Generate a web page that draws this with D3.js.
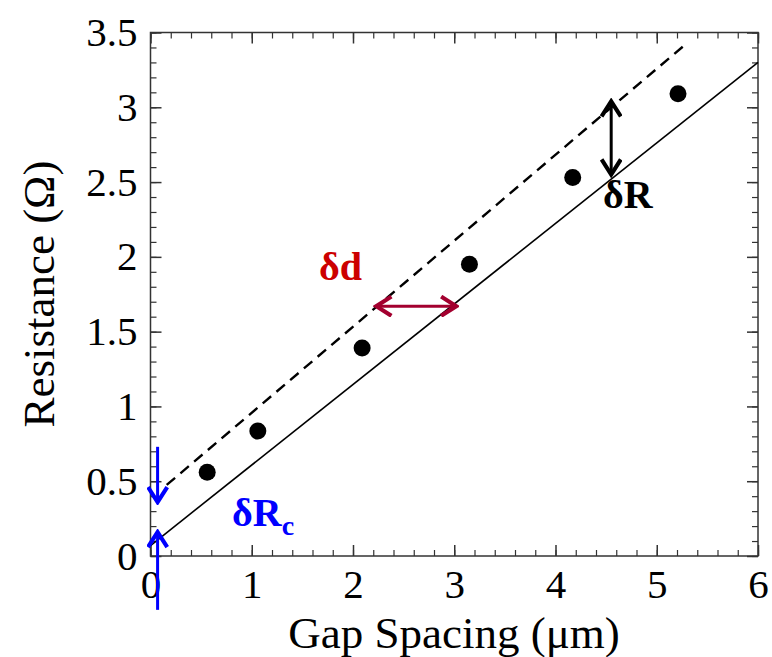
<!DOCTYPE html>
<html>
<head>
<meta charset="utf-8">
<script src="https://cdn.jsdelivr.net/npm/d3@7"></script>
<style>
  html, body { margin: 0; padding: 0; background: #fff; }
</style>
</head>
<body>
<div id="chart"></div>
<script>
"use strict";

// Measured points: gap spacing (um) vs resistance (ohm)
const gapSpacing = [0.56, 1.06, 2.09, 3.15, 4.17, 5.21];
const resistance = [0.56, 0.835, 1.39, 1.95, 2.53, 3.09];

// Fitted line (solid) and shifted line (dashed), as end points
const solidLine  = [[0, 0.07], [6, 3.30]];
const dashedLine = [[0.16, 0.475], [5.30, 3.43]];

// Tick values
const xMajor = [0, 1, 2, 3, 4, 5, 6];
const xMinor = d3.range(0, 6.001, 0.2);
const yMajor = [0, 0.5, 1, 1.5, 2, 2.5, 3, 3.5];
const yMinor = d3.range(0, 3.501, 0.1);

// Annotation arrows (data units)
const dRArrow   = [[4.55, 3.04], [4.55, 2.55]];
const ddArrow   = [[2.23, 1.67], [3.02, 1.67]];
const dRcTop    = [[0.07, 0.73], [0.07, 0.36]];
const dRcBottom = [[0.07, -0.36], [0.07, 0.16]];

const FONT = '"Liberation Serif", "Times New Roman", "DejaVu Serif", serif';

const W = 772, H = 657;
const x = d3.scaleLinear().domain([0, 6]).range([150.5, 758]);
const y = d3.scaleLinear().domain([0, 3.5]).range([556, 32.5]);

const svg = d3.select("#chart").append("svg")
  .attr("width", W).attr("height", H)
  .attr("font-family", FONT)
  .style("display", "block");

const defs = svg.append("defs");
function addHead(id, color) {
  defs.append("marker")
    .attr("id", id)
    .attr("viewBox", "-12 -8 14 16")
    .attr("refX", 0).attr("refY", 0)
    .attr("markerUnits", "userSpaceOnUse")
    .attr("markerWidth", 20).attr("markerHeight", 22)
    .attr("orient", "auto-start-reverse")
    .append("path")
    .attr("d", "M-11,-7 L0,0 L-11,7")
    .attr("fill", "none")
    .attr("stroke", color)
    .attr("stroke-width", 3);
}
addHead("head-black", "#000");
addHead("head-red", "#a3002f");
addHead("head-blue", "#0000ff");

const axisColor = "#333";
const tickFont = 41;

// Ticks on all four sides, pointing inward
function drawAxis(axisFn, scale, transform, major, minor, labels) {
  svg.append("g").attr("transform", transform)
    .call(axisFn(scale).tickValues(minor).tickSize(-6).tickSizeOuter(0).tickFormat(""))
    .call(g => g.select(".domain").remove())
    .call(g => g.selectAll("line").attr("stroke", axisColor).attr("stroke-width", 1.2));
  const g = svg.append("g").attr("transform", transform)
    .call(axisFn(scale).tickValues(major).tickSize(-11).tickSizeOuter(0)
      .tickPadding(labels ? 13 : 0)
      .tickFormat(labels ? d3.format("") : ""))
    .attr("font-family", FONT)
    .call(g => g.select(".domain").remove())
    .call(g => g.selectAll("line").attr("stroke", axisColor).attr("stroke-width", 1.5));
  g.selectAll("text")
    .attr("font-size", tickFont)
    .attr("fill", "#000");
  return g;
}

drawAxis(d3.axisBottom, x, `translate(0,${y(0)})`, xMajor, xMinor, true);
drawAxis(d3.axisTop, x, `translate(0,${y(3.5)})`, xMajor, xMinor, false);
drawAxis(d3.axisLeft, y, `translate(${x(0)},0)`, yMajor, yMinor, true);
drawAxis(d3.axisRight, y, `translate(${x(6)},0)`, yMajor, yMinor, false);

// Frame
svg.append("rect")
  .attr("x", x(0)).attr("y", y(3.5))
  .attr("width", x(6) - x(0)).attr("height", y(0) - y(3.5))
  .attr("fill", "none").attr("stroke", axisColor).attr("stroke-width", 1.5);

// Lines
const line = d3.line().x(d => x(d[0])).y(d => y(d[1]));
svg.append("path").datum(solidLine)
  .attr("d", line).attr("fill", "none")
  .attr("stroke", "#000").attr("stroke-width", 1.6);
svg.append("path").datum(dashedLine)
  .attr("d", line).attr("fill", "none")
  .attr("stroke", "#000").attr("stroke-width", 2.4)
  .attr("stroke-dasharray", "11,7");

// Points
svg.append("g").selectAll("circle")
  .data(gapSpacing.map((g, i) => [g, resistance[i]]))
  .join("circle")
  .attr("cx", d => x(d[0])).attr("cy", d => y(d[1]))
  .attr("r", 8.5).attr("fill", "#000");

// Arrows
function arrow(pts, color, head, both) {
  svg.append("path").datum(pts)
    .attr("d", line).attr("fill", "none")
    .attr("stroke", color).attr("stroke-width", 3)
    .attr("marker-end", `url(#${head})`)
    .attr("marker-start", both ? `url(#${head})` : null);
}
arrow(dRArrow, "#000", "head-black", true);
arrow(ddArrow, "#a3002f", "head-red", true);
arrow(dRcTop, "#0000ff", "head-blue", false);
arrow(dRcBottom, "#0000ff", "head-blue", false);

// Annotation labels
svg.append("text")
  .attr("x", 603).attr("y", 208)
  .attr("font-size", 40).attr("font-weight", "bold").attr("fill", "#000")
  .text("\u03b4R");
svg.append("text")
  .attr("x", 319).attr("y", 280)
  .attr("font-size", 40).attr("font-weight", "bold").attr("fill", "#cc0000")
  .text("\u03b4d");
const rc = svg.append("text")
  .attr("x", 232).attr("y", 526)
  .attr("font-size", 40).attr("font-weight", "bold").attr("fill", "#0000ff");
rc.append("tspan").text("\u03b4R");
rc.append("tspan").attr("font-size", 28).attr("dy", 9).text("c");

// Axis titles
svg.append("text")
  .attr("x", 454).attr("y", 648)
  .attr("text-anchor", "middle")
  .attr("font-size", 45).attr("fill", "#000")
  .text("Gap Spacing (\u03bcm)");
svg.append("text")
  .attr("transform", `translate(54,294) rotate(-90)`)
  .attr("text-anchor", "middle")
  .attr("font-size", 45).attr("fill", "#000")
  .text("Resistance (\u03a9)");
</script>
</body>
</html>
